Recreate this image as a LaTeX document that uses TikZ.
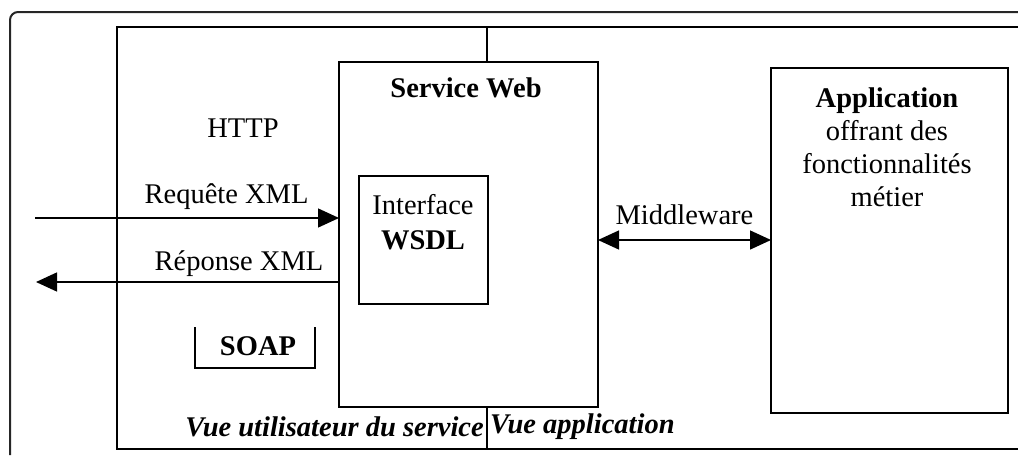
\documentclass[tikz,border=0pt]{standalone}
\usepackage{fontspec}
\setmainfont{Liberation Serif}
\usetikzlibrary{arrows.meta,positioning}

\tikzset{
  box/.style={draw,line width=1.4pt,inner sep=0pt,outer sep=0pt,anchor=north west},
  lbl/.style={font=\fontsize{28.5pt}{33pt}\selectfont,inner sep=0pt},
  flow/.style={-{Triangle[length=21pt,width=19pt]},line width=1.4pt},
}

\begin{document}
\begin{tikzpicture}[x=1pt,y=-1pt,line cap=butt,line join=miter]
 \useasboundingbox (0,0) rectangle (1018,459);
 % window frame and outer box
 \draw[black!85,line width=2pt,rounded corners=8pt] (10,455)--(10,12)--(1018,12);
 \draw[line width=1.4pt] (1018,27)--(117,27)--(117,449)--(1018,449);
 % boxes
 \node[box,minimum width=259pt,minimum height=345pt] (svc) at (339,62) {};
 \node[box,minimum width=129pt,minimum height=128pt] (wsdl) at (359,176) {};
 \node[box,minimum width=237pt,minimum height=345pt] (app) at (771,68) {};
 % separator between the two views
 \coordinate (sepT) at (487,27);
 \coordinate (sepB) at (487,449);
 \draw[line width=1.4pt] (sepT)--(sepT |- svc.north);
 \draw[line width=1.4pt] (sepB |- svc.south)--(sepB);
 % SOAP bracket
 \draw[line width=1.4pt] (195,327)--(195,368)--(315,368)--(315,327);
 % texts
 \node[lbl,font=\fontsize{28.5pt}{33pt}\selectfont\bfseries] (svctitle) at (466,88) {Service Web};
 \node[lbl] (http) at (243,128) {HTTP};
 \node[lbl] (ifc) at (423,205) {Interface};
 \node[lbl,font=\fontsize{28.5pt}{33pt}\selectfont\bfseries] (wsdltxt) at (423,240) {WSDL};
 \node[lbl,font=\fontsize{28.5pt}{33pt}\selectfont\bfseries] (soap) at (258,346) {SOAP};
 \node[lbl,align=center] (apptxt) at (887,147)
  {\textbf{Application}\\offrant des\\fonctionnalités\\métier};
 \node[lbl,font=\fontsize{28.5pt}{33pt}\selectfont\bfseries\itshape,anchor=east] (vueU) at (484,427) {Vue utilisateur du service};
 \node[lbl,font=\fontsize{28.5pt}{33pt}\selectfont\bfseries\itshape,anchor=west] (vueA) at (490,427) {Vue application};
 % exchanges
 \coordinate (inL) at (35,218);
 \coordinate (outL) at (36,282);
 \draw[flow] (inL)--(inL -| svc.west)
  node[lbl,pos=.63,above=8pt] (req) {Requête XML};
 \draw[flow] (outL -| svc.west)--(outL)
  node[lbl,pos=.33,above=5pt] (rep) {Réponse XML};
 \coordinate (mw) at (685,240);
 \draw[flow,{Triangle[length=21pt,width=19pt]}-{Triangle[length=21pt,width=19pt]}]
  (mw -| svc.east)--(mw -| app.west) node[lbl,midway,above=15pt] (mwtxt) {Middleware};
\end{tikzpicture}
\end{document}
